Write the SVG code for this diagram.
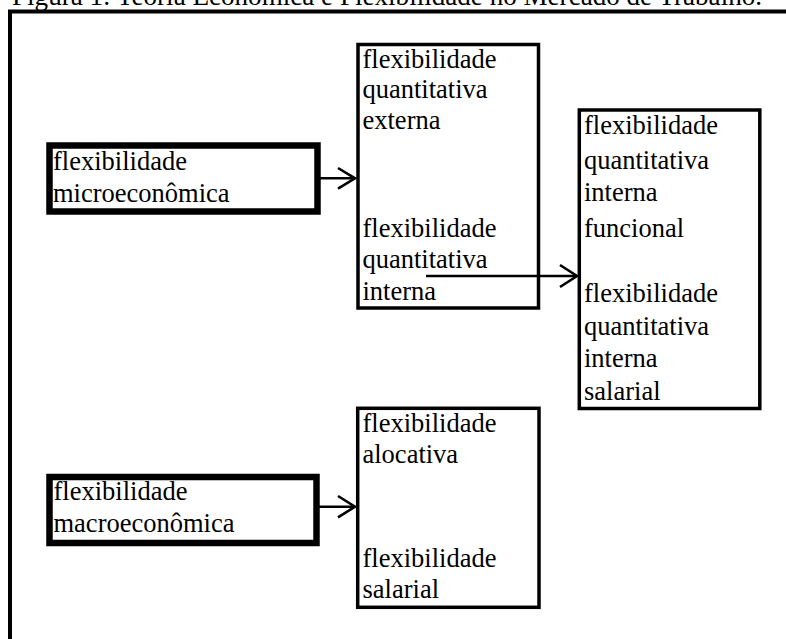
<svg xmlns="http://www.w3.org/2000/svg" width="786" height="639" viewBox="0 0 786 639">
<style>
text{font-family:"Liberation Serif","Times New Roman",serif;font-size:26.5px;fill:#000}
.title{font-size:27.1px}
.box{fill:#fff;stroke:#000;stroke-width:3.5}
.thick{fill:#fff;stroke:#000;stroke-width:6.5}
.conn{fill:none;stroke:#000;stroke-width:2.6}
.head{fill:none;stroke:#000;stroke-width:2.6;stroke-linejoin:miter}
</style>
<rect width="786" height="639" fill="#fff"/>
<text id="title" class="title" x="12" y="5">Figura 1: Teoria Econômica e Flexibilidade no Mercado de Trabalho.</text>
<rect id="frame" x="10" y="11.5" width="800" height="700" fill="none" stroke="#000" stroke-width="4"/>
<g id="micro">
<rect class="thick" x="49.5" y="145.5" width="268" height="66"/>
<text x="53" y="170">flexibilidade</text>
<text x="53" y="201.5">microeconômica</text>
</g>
<g id="quant">
<rect class="box" x="358" y="44.5" width="180.5" height="263.5"/>
<text x="362.5" y="67.5">flexibilidade</text>
<text x="362.5" y="98">quantitativa</text>
<text x="362.5" y="128.5">externa</text>
<text x="362.5" y="237">flexibilidade</text>
<text x="362.5" y="268">quantitativa</text>
<text x="362.5" y="299.5">interna</text>
</g>
<g id="interna">
<rect class="box" x="579.3" y="110" width="180.5" height="298.5"/>
<text x="584" y="133.5">flexibilidade</text>
<text x="584" y="169">quantitativa</text>
<text x="584" y="201">interna</text>
<text x="584" y="236.5">funcional</text>
<text x="584" y="302">flexibilidade</text>
<text x="584" y="335">quantitativa</text>
<text x="584" y="367">interna</text>
<text x="584" y="399.5">salarial</text>
</g>
<g id="macro">
<rect class="thick" x="49.5" y="477" width="267" height="66"/>
<text x="53.5" y="499.5">flexibilidade</text>
<text x="53.5" y="531.5">macroeconômica</text>
</g>
<g id="aloc">
<rect class="box" x="357.7" y="408.3" width="181.3" height="199"/>
<text x="362.5" y="431.5">flexibilidade</text>
<text x="362.5" y="463">alocativa</text>
<text x="362.5" y="566.5">flexibilidade</text>
<text x="362.5" y="597.5">salarial</text>
</g>
<g id="connectors">
<line class="conn" x1="318" y1="178.3" x2="355" y2="178.3"/>
<polyline class="head" points="338,168 355,178.3 338,188.6"/>
<line class="conn" x1="426" y1="276" x2="576" y2="276" stroke-width="3"/>
<polyline class="head" points="560,265 577,276 560,287" stroke-width="3"/>
<line class="conn" x1="316.5" y1="506.7" x2="355" y2="506.7"/>
<polyline class="head" points="338,496 355,506.7 338,517.4"/>
</g>
</svg>
